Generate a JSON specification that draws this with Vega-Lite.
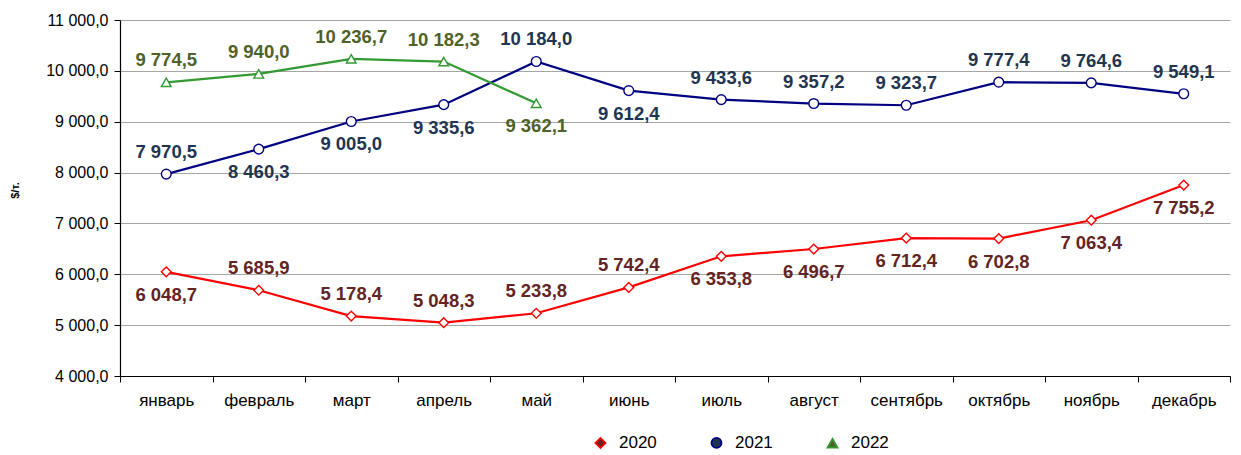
{
  "$schema": "https://vega.github.io/schema/vega-lite/v6.json",
  "width": 1110,
  "height": 356,
  "autosize": "none",
  "padding": {"left": 120, "top": 20, "right": 11, "bottom": 79},
  "background": "white",
  "config": {
    "font": "Liberation Sans",
    "locale": {"number": {"decimal": ",", "thousands": "\u00a0", "grouping": [3], "currency": ["", ""]}},
    "view": {"stroke": null}
  },
  "data": {
    "values": [
      {"month": "январь", "year": "2020", "value": 6048.7},
      {"month": "февраль", "year": "2020", "value": 5685.9},
      {"month": "март", "year": "2020", "value": 5178.4},
      {"month": "апрель", "year": "2020", "value": 5048.3},
      {"month": "май", "year": "2020", "value": 5233.8},
      {"month": "июнь", "year": "2020", "value": 5742.4},
      {"month": "июль", "year": "2020", "value": 6353.8},
      {"month": "август", "year": "2020", "value": 6496.7},
      {"month": "сентябрь", "year": "2020", "value": 6712.4},
      {"month": "октябрь", "year": "2020", "value": 6702.8},
      {"month": "ноябрь", "year": "2020", "value": 7063.4},
      {"month": "декабрь", "year": "2020", "value": 7755.2},
      {"month": "январь", "year": "2021", "value": 7970.5},
      {"month": "февраль", "year": "2021", "value": 8460.3},
      {"month": "март", "year": "2021", "value": 9005.0},
      {"month": "апрель", "year": "2021", "value": 9335.6},
      {"month": "май", "year": "2021", "value": 10184.0},
      {"month": "июнь", "year": "2021", "value": 9612.4},
      {"month": "июль", "year": "2021", "value": 9433.6},
      {"month": "август", "year": "2021", "value": 9357.2},
      {"month": "сентябрь", "year": "2021", "value": 9323.7},
      {"month": "октябрь", "year": "2021", "value": 9777.4},
      {"month": "ноябрь", "year": "2021", "value": 9764.6},
      {"month": "декабрь", "year": "2021", "value": 9549.1},
      {"month": "январь", "year": "2022", "value": 9774.5},
      {"month": "февраль", "year": "2022", "value": 9940.0},
      {"month": "март", "year": "2022", "value": 10236.7},
      {"month": "апрель", "year": "2022", "value": 10182.3},
      {"month": "май", "year": "2022", "value": 9362.1}
    ]
  },
  "encoding": {
    "x": {
      "field": "month", "type": "nominal", "sort": null,
      "scale": {"domain": ["январь","февраль","март","апрель","май","июнь","июль","август","сентябрь","октябрь","ноябрь","декабрь"], "paddingInner": 0, "paddingOuter": 0},
      "axis": {
        "title": null, "labelAngle": 0, "labelFontSize": 17, "labelColor": "#000000",
        "labelPadding": 10, "domainColor": "#000000", "domainWidth": 1.2,
        "tickColor": "#000000", "tickSize": 6, "tickBand": "extent", "grid": false
      }
    },
    "y": {
      "field": "value", "type": "quantitative",
      "scale": {"domain": [4000, 11000], "nice": false, "zero": false},
      "axis": {
        "title": "$/т.", "titleFontSize": 11, "titleFontWeight": "bold", "titleColor": "#000000",
        "titleX": -100, "titleY": 170, "titleAngle": 270,
        "values": [4000, 5000, 6000, 7000, 8000, 9000, 10000, 11000],
        "format": ",.1f", "labelFontSize": 16, "labelColor": "#000000", "labelPadding": 6,
        "domainColor": "#000000", "domainWidth": 1.2, "tickColor": "#000000", "tickSize": 6,
        "gridColor": "#A6A6A6", "gridWidth": 1.2
      }
    }
  },
  "layer": [
    {
      "mark": {"type": "line", "strokeWidth": 2.2},
      "encoding": {
        "stroke": {"field": "year", "type": "nominal",
          "scale": {"domain": ["2020", "2021", "2022"], "range": ["#FF0000", "#000080", "#339933"]},
          "legend": {
            "title": null, "orient": "none", "legendX": 472, "legendY": 414,
            "direction": "horizontal", "labelFontSize": 17, "labelColor": "#000000",
            "columnPadding": 50, "symbolSize": 100, "labelOffset": 10, "symbolStrokeWidth": 1.8, "symbolFillColor": "white",
            "encode": {
              "symbols": {
                "update": {
                  "fill": {"value": "white"},
                  "shape": {"signal": "datum.value == '2020' ? 'M-1,0H-0.42M0.42,0H1M-0.42,0L0,-0.42L0.42,0L0,0.42Z' : datum.value == '2021' ? 'M-1,0H-0.4M0.4,0H1M-0.4,0A0.4,0.4,0,1,0,0.4,0A0.4,0.4,0,1,0,-0.4,0Z' : 'M-1,0.12H-0.26M0.26,0.12H1M-0.4,0.36L0,-0.38L0.4,0.36Z'"}
                }
              }
            }
          }}
      }
    },
    {
      "mark": {"type": "point", "filled": false, "fill": "white", "fillOpacity": 1, "opacity": 1, "strokeWidth": 1.4, "size": 95},
      "encoding": {
        "stroke": {"field": "year", "type": "nominal",
          "legend": {
            "title": null, "orient": "none", "legendX": 472, "legendY": 414,
            "direction": "horizontal", "labelFontSize": 17, "labelColor": "#000000",
            "columnPadding": 50, "symbolSize": 100, "labelOffset": 10, "symbolStrokeWidth": 1.8, "symbolFillColor": "white",
            "encode": {
              "symbols": {
                "update": {
                  "fill": {"value": "white"},
                  "shape": {"signal": "datum.value == '2020' ? 'M-1,0H-0.42M0.42,0H1M-0.42,0L0,-0.42L0.42,0L0,0.42Z' : datum.value == '2021' ? 'M-1,0H-0.4M0.4,0H1M-0.4,0A0.4,0.4,0,1,0,0.4,0A0.4,0.4,0,1,0,-0.4,0Z' : 'M-1,0.12H-0.26M0.26,0.12H1M-0.4,0.36L0,-0.38L0.4,0.36Z'"}
                }
              }
            }
          }},
        "shape": {"field": "year", "type": "nominal",
          "scale": {"domain": ["2020", "2021", "2022"], "range": ["diamond", "circle", "triangle-up"]}}
      }
    },
    {
      "transform": [{"filter": "(datum.year=='2020' && indexof(['февраль','март','апрель','май','июнь'], datum.month)>=0) || (datum.year=='2021' && indexof(['январь','май','июль','август','сентябрь','октябрь','ноябрь','декабрь'], datum.month)>=0) || (datum.year=='2022' && datum.month!='май')"}],
      "mark": {"type": "text", "fontSize": 18.5, "fontWeight": "bold", "dy": -22, "baseline": "middle"},
      "encoding": {
        "text": {"field": "value", "type": "quantitative", "format": ",.1f"},
        "fill": {"field": "year", "type": "nominal",
          "scale": {"domain": ["2020", "2021", "2022"], "range": ["#632523", "#1F3550", "#4F6228"]},
          "legend": null}
      }
    },
    {
      "transform": [{"filter": "!((datum.year=='2020' && indexof(['февраль','март','апрель','май','июнь'], datum.month)>=0) || (datum.year=='2021' && indexof(['январь','май','июль','август','сентябрь','октябрь','ноябрь','декабрь'], datum.month)>=0) || (datum.year=='2022' && datum.month!='май'))"}],
      "mark": {"type": "text", "fontSize": 18.5, "fontWeight": "bold", "dy": 23, "baseline": "middle"},
      "encoding": {
        "text": {"field": "value", "type": "quantitative", "format": ",.1f"},
        "fill": {"field": "year", "type": "nominal", "legend": null}
      }
    }
  ]
}
